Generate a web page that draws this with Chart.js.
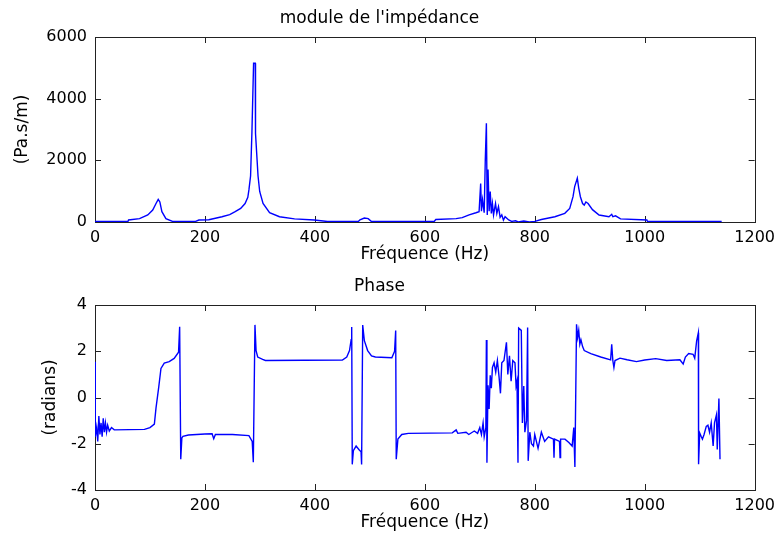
<!DOCTYPE html>
<html>
<head>
<meta charset="utf-8">
<script src="https://cdn.jsdelivr.net/npm/chart.js@4.4.0/dist/chart.umd.min.js"></script>
<style>
  body { margin: 0; background: #fff; }
  #wrap { position: relative; width: 781px; height: 541px; }
  canvas { position: absolute; left: 0; }
</style>
</head>
<body>
<div id="wrap">
  <canvas id="module_graph" width="781" height="270" style="top:0px"></canvas>
  <canvas id="phase_graph" width="781" height="270" style="top:268px"></canvas>
</div>
<script>
// Tick labels shared by the two plots
const freqTicks = [0, 200, 400, 600, 800, 1000, 1200];
const moduleTicks = [0, 2000, 4000, 6000];
const phaseTicks = [-4, -2, 0, 2, 4];

// Module of the impedance (Pa.s/m)
const moduleFreq = [0, 60, 61, 81, 96, 105, 111, 115, 118, 121.7, 129, 141, 183, 189, 207, 231, 245, 255, 265, 273, 278, 280, 283,
  285.5, 288.5, 291.5, 292, 296.6, 299.6, 305.7, 317.6, 335.6, 363, 399, 423, 479, 482, 490, 497, 503, 617, 620, 657,
  668, 680.6, 693, 698.7, 701.6, 703, 705, 708, 710, 712, 713.6, 715, 717, 719, 721, 723, 725, 728.6, 731, 734,
  737, 740, 743, 746, 752.6, 758, 765, 770, 780, 790, 800, 812, 836.6, 854.6, 863.6, 869.6, 872.6, 877.4, 880, 883,
  887, 890, 893, 897, 905, 917, 935, 940, 942, 947, 956, 1004, 1005, 1140];
const moduleValues = [20, 20, 65, 110, 227, 390, 600, 735, 650, 335, 110, 20, 20, 65, 75, 170, 240, 335, 440, 600, 800, 1040, 1490,
  2930, 5150, 5150, 2870, 1490, 990, 600, 300, 170, 100, 65, 15, 15, 70, 130, 110, 15, 15, 80, 110,
  140, 230, 300, 335, 1250, 350, 720, 300, 2010, 3200, 230, 1700, 350, 990, 280, 600, 230, 600, 280, 500,
  150, 230, 60, 170, 65, 20, 40, 0, 30, 0, 20, 80, 170, 280, 440, 820, 1150, 1420, 1100, 820,
  600, 550, 650, 600, 400, 227, 170, 250, 170, 200, 100, 65, 20, 20];

// Phase (radians)
const phaseFreq = [0, 0.5, 3, 5, 7, 9, 11, 13, 15, 17, 19, 21, 23, 26, 30, 35, 90, 100, 108, 111,
  116, 120, 126, 135, 144, 152, 154, 156, 158, 160, 170, 200, 213, 216, 219, 250, 280, 286, 288, 291,
  293, 296, 305, 310, 450, 458, 463, 466, 467, 468, 470, 475, 480, 484, 485, 487, 490, 496, 503, 510,
  540, 545, 547, 548, 551, 558, 570, 650, 657, 660, 675, 680, 690, 696, 700, 703, 706, 708, 711, 712,
  713, 715, 717, 719, 721, 723, 726, 729, 732, 735, 737.6, 740, 744, 748.5, 751, 754, 757, 760, 764, 766,
  767.7, 769.5, 770.7, 775.5, 777.5, 780, 782, 785, 787, 788, 791, 794, 797.6, 800, 806, 812, 818, 825, 834, 835,
  836, 845, 846, 847, 855, 862, 868, 871, 872, 873, 874.5, 876, 878, 880, 882, 884, 887, 890, 902, 920,
  938, 940, 942, 944, 946, 955, 968, 985, 1000, 1020, 1040, 1064, 1070, 1074, 1080, 1088, 1091, 1094.5, 1097.6, 1098,
  1100, 1103, 1105, 1108, 1112, 1115, 1118, 1121, 1124.5, 1127, 1130.5, 1132, 1135, 1137];
const phaseValues = [1.55, -1.7, -1.3, -1.9, -0.8, -1.6, -1.1, -1.7, -0.9, -1.5, -1.1, -1.5, -1.2, -1.45, -1.3, -1.4, -1.38, -1.3, -1.15, -0.45,
  0.46, 1.26, 1.49, 1.55, 1.69, 1.96, 3.06, -2.67, -1.75, -1.68, -1.62, -1.58, -1.57, -1.78, -1.6, -1.6, -1.65, -1.9, -2.8, 3.14,
  2.03, 1.75, 1.65, 1.6, 1.62, 1.75, 2.03, 2.5, 3.05, -2.89, -2.3, -2.1, -2.25, -2.35, -2.9, 3.13, 2.46, 2.03, 1.8, 1.75,
  1.72, 2.0, 2.9, -2.67, -1.8, -1.6, -1.55, -1.53, -1.4, -1.55, -1.5, -1.6, -1.45, -1.55, -1.3, -1.6, -1.1, -1.7, -1.3, 2.49,
  -2.82, 0.53, -0.5, 0.96, 0.4, 1.3, 1.5, 1.1, 1.6, 0.9, 0.18, 1.5, 1.6, 2.39, 1.0, 1.8, 0.7, 1.6, 1.5, 0.5,
  0.7, -2.82, 3.0, 2.9, -1.1, 0.5, -1.5, -1.0, 3.03, -2.74, -1.5, -2.0, -2.1, -1.6, -2.2, -1.5, -1.9, -1.7, -1.8, -2.6,
  -1.8, -1.9, -2.6, -1.8, -1.8, -1.95, -2.1, -1.3, -2.2, -3.0, 0.03, 3.17, 2.6, 2.9, 2.3, 2.5, 2.2, 2.03, 1.9, 1.75,
  1.63, 2.3, 1.6, 1.3, 1.6, 1.7, 1.63, 1.55, 1.62, 1.68, 1.6, 1.63, 1.45, 1.75, 1.9, 1.87, 1.7, 2.45, 2.8, -2.89,
  -1.53, -1.7, -1.8, -1.6, -1.25, -1.2, -1.5, -1.1, -2.1, -1.1, -0.75, -2.25, -0.04, -2.67];

const font_family = "'DejaVu Sans', sans-serif";
const axis_color = '#222';

// Draws the MATLAB style box with ticks pointing inside, on all four sides
const boxTicks = {
  id: 'boxTicks',
  beforeDatasetsDraw(chart) {
    const {ctx, chartArea: a, scales: {x, y}} = chart;
    const len = 6;
    ctx.save();
    ctx.strokeStyle = axis_color;
    ctx.lineWidth = 1;
    ctx.beginPath();
    x.ticks.forEach(t => {
      const px = Math.round(x.getPixelForValue(t.value)) + 0.5;
      ctx.moveTo(px, a.bottom); ctx.lineTo(px, a.bottom - len);
      ctx.moveTo(px, a.top); ctx.lineTo(px, a.top + len);
    });
    y.ticks.forEach(t => {
      const py = Math.round(y.getPixelForValue(t.value)) + 0.5;
      ctx.moveTo(a.left, py); ctx.lineTo(a.left + len, py);
      ctx.moveTo(a.right, py); ctx.lineTo(a.right - len, py);
    });
    ctx.stroke();
    ctx.strokeRect(Math.round(a.left) + 0.5, Math.round(a.top) + 0.5, Math.round(a.right - a.left), Math.round(a.bottom - a.top));
    ctx.restore();
  }
};

function make_plot(canvas_id, title, ylabel, ylabel_pad, xs, ys, yTicks) {
  // Build the points from the two arrays
  const points = xs.map((f, i) => ({x: f, y: ys[i]}));
  return new Chart(document.getElementById(canvas_id), {
    type: 'line',
    data: {
      datasets: [{
        data: points,
        borderColor: 'rgb(0,0,255)',
        borderWidth: 1.4,
        pointRadius: 0,
        tension: 0,
        fill: false
      }]
    },
    options: {
      responsive: false,
      animation: false,
      layout: {padding: {left: 0, right: 22, top: 0, bottom: 0}},
      plugins: {
        legend: {display: false},
        tooltip: {enabled: false},
        title: {
          display: true,
          text: title,
          color: '#000',
          font: {family: font_family, size: 17, weight: 'normal'},
          padding: {top: 8, bottom: 8.6}
        }
      },
      scales: {
        x: {
          type: 'linear',
          min: freqTicks[0],
          max: freqTicks[freqTicks.length - 1],
          afterBuildTicks: s => { s.ticks = freqTicks.map(v => ({value: v})); },
          afterFit: s => { s.height = 48; },
          grid: {display: false, drawTicks: false},
          border: {display: false},
          ticks: {color: '#000', padding: 6, maxRotation: 0, font: {family: font_family, size: 16}, callback: v => String(v)},
          title: {display: true, text: 'Fréquence (Hz)', color: '#000', font: {family: font_family, size: 17}, padding: {top: 0, bottom: 5}}
        },
        y: {
          type: 'linear',
          min: yTicks[0],
          max: yTicks[yTicks.length - 1],
          afterBuildTicks: s => { s.ticks = yTicks.map(v => ({value: v})); },
          afterFit: s => { s.width = 95; },
          grid: {display: false, drawTicks: false},
          border: {display: false},
          ticks: {color: '#000', padding: 8, font: {family: font_family, size: 16}, callback: v => String(v)},
          title: {display: true, text: ylabel, color: '#000', font: {family: font_family, size: 17}, padding: {top: ylabel_pad, bottom: 0}}
        }
      }
    },
    plugins: [boxTicks]
  });
}

make_plot('module_graph', "module de l'impédance", '(Pa.s/m)', 12.8, moduleFreq, moduleValues, moduleTicks);
make_plot('phase_graph', 'Phase', '(radians)', 40.8, phaseFreq, phaseValues, phaseTicks);
</script>
</body>
</html>
